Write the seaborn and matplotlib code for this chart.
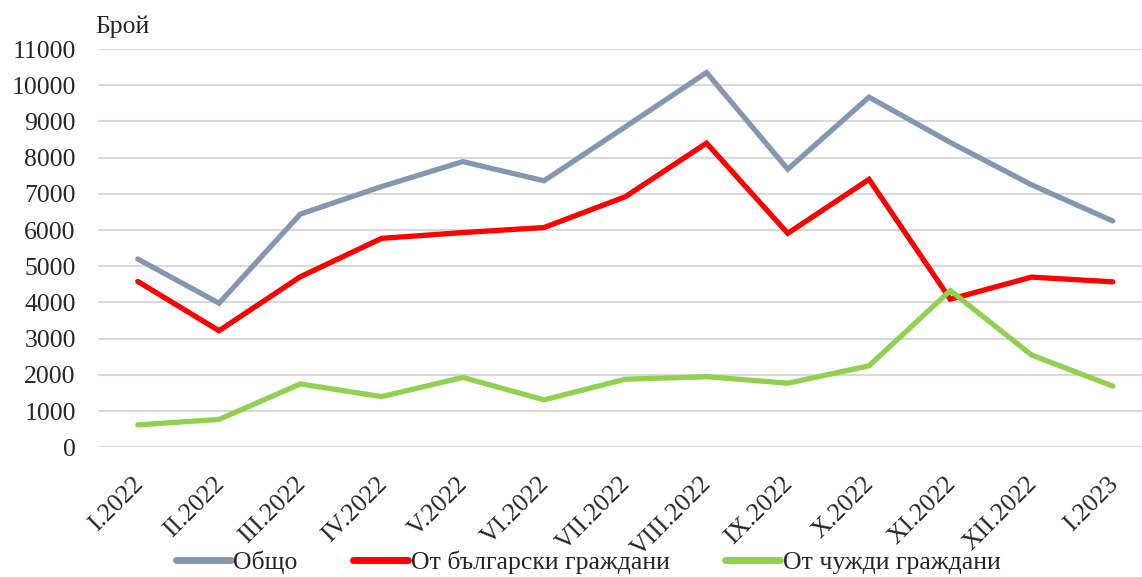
import matplotlib
matplotlib.use("Agg")
import matplotlib.pyplot as plt
import matplotlib.transforms as mtransforms
import seaborn as sns
import pandas as pd

months = ["I.2022", "II.2022", "III.2022", "IV.2022", "V.2022", "VI.2022",
          "VII.2022", "VIII.2022", "IX.2022", "X.2022", "XI.2022", "XII.2022", "I.2023"]
total = [5200, 3980, 6440, 7200, 7890, 7360, 8850, 10350, 7680, 9670, 8420, 7250, 6250]
bulgarian = [4580, 3220, 4710, 5770, 5930, 6070, 6920, 8400, 5910, 7400, 4090, 4700, 4570]
foreign = [620, 770, 1750, 1400, 1930, 1310, 1880, 1950, 1770, 2250, 4330, 2550, 1690]
series_names = ["Общо", "От български граждани", "От чужди граждани"]
colors = ["#8497B0", "#FF0000", "#92D050"]

df = pd.DataFrame({
    "x": list(range(len(months))) * 3,
    "value": total + bulgarian + foreign,
    "series": [series_names[0]] * len(months) + [series_names[1]] * len(months) + [series_names[2]] * len(months),
})

sns.set_theme(style="white")
plt.rcParams["font.family"] = ["Liberation Serif", "DejaVu Serif"]

fig = plt.figure(figsize=(11.42, 5.77), dpi=100)
ax = fig.add_axes([98 / 1142, 1 - 447.3 / 577, 1 - 98 / 1142, (447.3 - 49) / 577])

sns.lineplot(data=df, x="x", y="value", hue="series", palette=colors,
             hue_order=series_names, linewidth=3.8, ax=ax, legend=True)
for ln in ax.lines:
    ln.set_solid_capstyle("round")
    ln.set_solid_joinstyle("miter")

ax.set_ylim(0, 11000)
ax.set_xlim(-0.49, 12.36)
ax.set_yticks(range(0, 11001, 1000))
ax.set_yticklabels([str(v) for v in range(0, 11001, 1000)], fontsize=18.5)
ax.set_xticks(range(len(months)))
ax.set_xticklabels(months, fontsize=18.5, rotation=45, ha="right", rotation_mode="anchor")
ax.tick_params(axis="y", length=0, pad=16)
ax.tick_params(axis="x", length=0, pad=18.5)
offset = mtransforms.ScaledTranslation(-6 / 100, 0, fig.dpi_scale_trans)
for lab in ax.get_xticklabels():
    lab.set_transform(lab.get_transform() + offset)
ax.grid(axis="y", color="#D9D9D9", linewidth=1.5)
ax.grid(axis="x", visible=False)
ax.set_axisbelow(True)
for s in ax.spines.values():
    s.set_visible(False)
ax.set_xlabel("")
ax.set_ylabel("")

fig.text(95 / 1142, 1 - 27 / 577, "Брой", fontsize=18.5, va="center", ha="left")

leg = ax.legend(loc="center", bbox_to_anchor=(588 / 1142, 1 - 562 / 577),
                bbox_transform=fig.transFigure, ncol=3, frameon=False,
                fontsize=18.5, handlelength=2.15, handletextpad=0.1,
                columnspacing=2.15, borderpad=0.0)
for h in leg.get_lines():
    h.set_linewidth(5)
    h.set_solid_capstyle("round")

fig.savefig("out.png", dpi=100)
